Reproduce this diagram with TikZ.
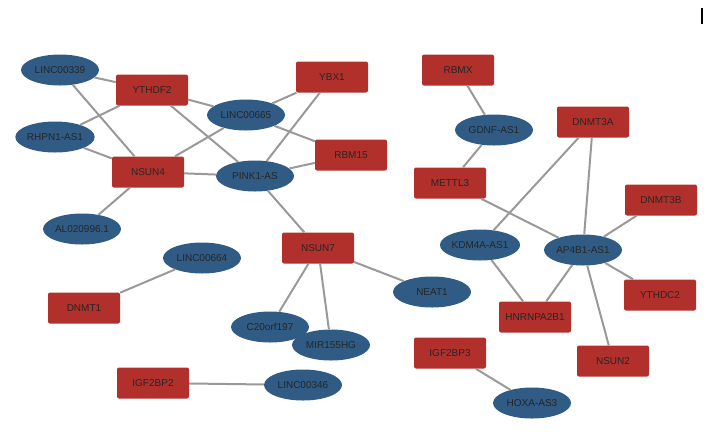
\documentclass[tikz,border=0pt]{standalone}
\usepackage{fontspec}
\setmainfont{Liberation Sans}
\usetikzlibrary{shapes.geometric}
\definecolor{lncblue}{HTML}{2F5B85}
\definecolor{regred}{HTML}{B2302B}
\begin{document}
\begin{tikzpicture}[x=1pt,y=-1pt,font=\fontsize{10}{12}\selectfont,
  lnc/.style={ellipse,fill=lncblue,minimum width=78pt,minimum height=31pt,inner sep=0pt,text=black!85},
  reg/.style={rectangle,rounded corners=2pt,fill=regred,minimum width=72pt,minimum height=31pt,inner sep=0pt,text=black!85},
  link/.style={draw=gray!80,line width=2pt}]
	\useasboundingbox (0,0) rectangle (708,440);
	% lncRNAs
	\node[lnc] (l339)  at (60,70)   {LINC00339};
	\node[lnc] (rhpn)  at (55,137)  {RHPN1-AS1};
	\node[lnc] (l665)  at (246,115) {LINC00665};
	\node[lnc] (pink)  at (255,176) {PINK1-AS};
	\node[lnc] (al02)  at (82,229)  {AL020996.1};
	\node[lnc] (l664)  at (202,258) {LINC00664};
	\node[lnc] (c20)   at (270,327) {C20orf197};
	\node[lnc] (mir)   at (331,345) {MIR155HG};
	\node[lnc] (neat)  at (432,292) {NEAT1};
	\node[lnc] (l346)  at (303,385) {LINC00346};
	\node[lnc] (gdnf)  at (494,130) {GDNF-AS1};
	\node[lnc] (kdm)   at (480,245) {KDM4A-AS1};
	\node[lnc] (ap4)   at (583,250) {AP4B1-AS1};
	\node[lnc] (hoxa)  at (532,403) {HOXA-AS3};
	% regulators
	\node[reg] (ythdf2) at (152,90)  {YTHDF2};
	\node[reg] (ybx1)   at (332,77)  {YBX1};
	\node[reg] (rbm15)  at (351,155) {RBM15};
	\node[reg] (nsun4)  at (148,172) {NSUN4};
	\node[reg] (nsun7)  at (318,248) {NSUN7};
	\node[reg] (dnmt1)  at (84,308)  {DNMT1};
	\node[reg] (igf2)   at (153,383) {IGF2BP2};
	\node[reg] (rbmx)   at (458,70)  {RBMX};
	\node[reg] (dnmt3a) at (593,122) {DNMT3A};
	\node[reg] (mettl3) at (450,183) {METTL3};
	\node[reg] (dnmt3b) at (661,200) {DNMT3B};
	\node[reg] (hnrnp)  at (535,317) {HNRNPA2B1};
	\node[reg] (ythdc2) at (660,295) {YTHDC2};
	\node[reg] (nsun2)  at (613,361) {NSUN2};
	\node[reg] (igf3)   at (450,353) {IGF2BP3};
	\draw[black,line width=1.5pt] (702,8) -- (702,24);
	\begin{scope}[on background layer/.style={}]
	\end{scope}
	\path[link] (l339) -- (ythdf2) (l339) -- (nsun4) (rhpn) -- (ythdf2) (rhpn) -- (nsun4)
	  (ythdf2) -- (l665) (ythdf2) -- (pink) (l665) -- (ybx1) (l665) -- (rbm15)
	  (l665) -- (nsun4) (pink) -- (ybx1) (pink) -- (rbm15) (pink) -- (nsun4)
	  (nsun4) -- (al02) (pink) -- (nsun7) (nsun7) -- (c20) (nsun7) -- (mir)
	  (nsun7) -- (neat) (l664) -- (dnmt1) (igf2) -- (l346) (rbmx) -- (gdnf)
	  (gdnf) -- (mettl3) (mettl3) -- (ap4) (dnmt3a) -- (kdm) (dnmt3a) -- (ap4)
	  (kdm) -- (hnrnp) (ap4) -- (hnrnp) (ap4) -- (dnmt3b) (ap4) -- (ythdc2)
	  (ap4) -- (nsun2) (igf3) -- (hoxa);
\end{tikzpicture}
\end{document}
